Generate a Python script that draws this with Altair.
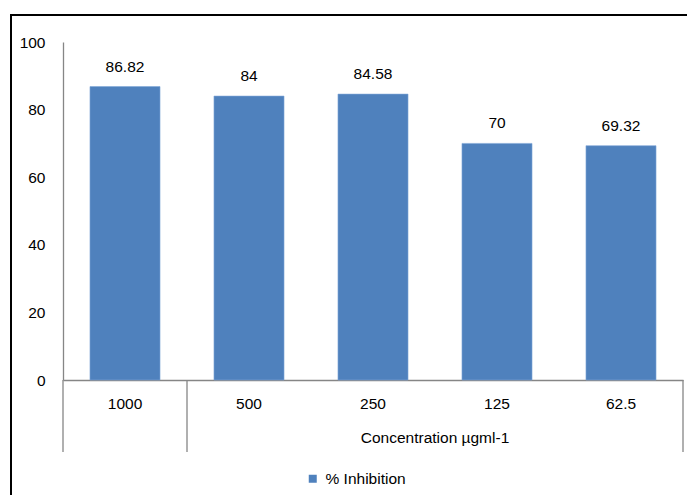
import altair as alt
import pandas as pd

categories = ["1000", "500", "250", "125", "62.5"]
values = [86.82, 84, 84.58, 70, 69.32]
series_name = "% Inhibition"
group_label = "Concentration  µgml-1"

df = pd.DataFrame({
    "cat": categories,
    "val": values,
    "lab": [f"{v:g}" for v in values],
    "series": [series_name] * len(categories),
})

FONT = "Liberation Sans"
FS = 15.5
W, H = 620, 338
BLUE = "#4F81BD"
GRAY = "#868686"
PAD_IN = 0.435
STEP = W / len(categories)

xenc = alt.X("cat:N", sort=None,
             scale=alt.Scale(paddingInner=PAD_IN, paddingOuter=PAD_IN / 2),
             axis=alt.Axis(title=None, ticks=False, labelAngle=0, labelPadding=16,
                           labelFontSize=FS, labelFont=FONT, labelColor="#000000",
                           domainColor=GRAY, domainWidth=1.3))
yenc = alt.Y("val:Q", scale=alt.Scale(domain=[0, 100]),
             axis=alt.Axis(title=None, values=[0, 20, 40, 60, 80, 100], ticks=False,
                           grid=False, labelPadding=18, labelFontSize=FS, labelFont=FONT,
                           labelColor="#000000", domainColor=GRAY, domainWidth=1.3))

bars = alt.Chart(df).mark_bar(stroke="#7FA6D6", strokeWidth=0.6).encode(
    x=xenc, y=yenc,
    color=alt.Color("series:N", scale=alt.Scale(range=[BLUE]),
                    legend=alt.Legend(title=None, orient="none", legendX=242, legendY=429,
                                      symbolType="square", symbolSize=64,
                                      symbolStrokeWidth=0, labelFontSize=FS, labelFont=FONT,
                                      labelColor="#000000", labelOffset=5)),
)

labels = alt.Chart(df).mark_text(baseline="bottom", dy=-12, fontSize=FS, font=FONT,
                                 color="#000000").encode(
    x=alt.X("cat:N", sort=None), y="val:Q", text="lab:N")

div_df = pd.DataFrame({"cat": categories[:2]})
dividers = alt.Chart(div_df).mark_rule(color=GRAY, strokeWidth=1.3).encode(
    x=alt.X("cat:N", sort=None, bandPosition=0),
    xOffset=alt.value(-PAD_IN * STEP / 2),
    y=alt.value(H), y2=alt.value(H + 72))
end_div = alt.Chart(div_df.head(1)).mark_rule(color=GRAY, strokeWidth=1.3).encode(
    x=alt.value(W), y=alt.value(H), y2=alt.value(H + 72))

grp = alt.Chart(pd.DataFrame({"t": [group_label]})).mark_text(
    fontSize=FS, font=FONT, color="#000000", baseline="middle").encode(
    x=alt.value(372), y=alt.value(H + 58), text="t:N")

border_top = alt.Chart(div_df.head(1)).mark_rule(color="#000000", strokeWidth=2).encode(
    x=alt.value(-52), x2=alt.value(W + 10), y=alt.value(-27))
border_left = alt.Chart(div_df.head(1)).mark_rule(color="#000000", strokeWidth=2).encode(
    x=alt.value(-52), y=alt.value(-28), y2=alt.value(H + 120))

chart = alt.layer(bars, labels, dividers, end_div, grp, border_top, border_left).resolve_scale(
    x="shared").properties(
    width=W, height=H,
    autosize=alt.AutoSizeParams(type="none"),
    padding={"left": 63, "top": 42, "right": 4, "bottom": 115},
    background="#FFFFFF",
).configure_view(stroke=None)

chart.save("out.html", embed_options={"renderer": "svg", "actions": False})
